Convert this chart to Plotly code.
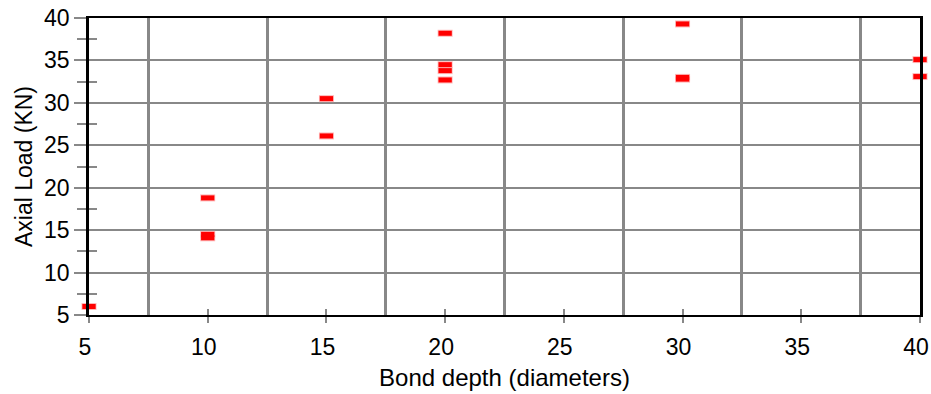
import plotly.graph_objects as go

depth = [5, 10, 10, 10, 15, 15, 20, 20, 20, 20, 30, 30, 30, 40, 40]
load = [6.0, 18.8, 14.5, 14.1, 30.5, 26.1, 38.2, 34.5, 33.8, 32.7, 39.3, 33.0, 32.8, 35.1, 33.1]

x_ticks = [5, 10, 15, 20, 25, 30, 35, 40]
x_labels = ["5", "10", "15", "20", "25", "30", "35", "40"]
y_ticks = [5, 10, 15, 20, 25, 30, 35, 40]
y_labels = ["5", "10", "15", "20", "25", "30", "35", "40"]

FONT = "Liberation Sans, Arial, sans-serif"
GRAY = "#888888"

fig = go.Figure()
# pale outline under the red dashes
fig.add_trace(go.Scatter(
    x=depth, y=load, mode="markers", cliponaxis=False, hoverinfo="skip",
    marker=dict(symbol="line-ew", size=10.7, line=dict(color="#ffb8b8", width=7)),
    showlegend=False))
fig.add_trace(go.Scatter(
    x=depth, y=load, mode="markers", cliponaxis=False,
    marker=dict(symbol="line-ew", size=9.5, line=dict(color="#ff0000", width=5)),
    showlegend=False))
# empty trace so the overlay axes (inner halves of the crossing ticks) are drawn
fig.add_trace(go.Scatter(x=[], y=[], xaxis="x2", yaxis="y2", showlegend=False, hoverinfo="skip"))

fig.update_layout(
    width=931, height=394,
    margin=dict(l=89, r=11, t=18, b=79),
    paper_bgcolor="white", plot_bgcolor="white",
    font=dict(family=FONT, size=18, color="black"),
    xaxis=dict(
        range=[5, 40], tickvals=x_ticks, ticktext=x_labels,
        automargin=False, ticklabeloverflow="allow", ticklabelshift=-4,
        showgrid=False, zeroline=False,
        showline=True, linecolor="black", linewidth=1.5, mirror=True,
        ticks="outside", ticklen=6, tickwidth=2, tickcolor=GRAY,
        ticklabelstandoff=5, tickfont=dict(family=FONT, size=23, color="black"),
        minor=dict(tick0=7.5, dtick=5, showgrid=True, gridcolor=GRAY, gridwidth=2.5, ticks=""),
        title=dict(text="Bond depth (diameters)", standoff=10, font=dict(family=FONT, size=24, color="black")),
    ),
    yaxis=dict(
        range=[5, 40], tickvals=y_ticks, ticktext=y_labels,
        automargin=False, ticklabeloverflow="allow",
        showgrid=True, gridcolor=GRAY, gridwidth=1.5, zeroline=False,
        showline=True, linecolor="black", linewidth=2.5, mirror=True,
        ticks="outside", ticklen=12, tickwidth=1.5, tickcolor=GRAY,
        tickfont=dict(family=FONT, size=23, color="black"),
        minor=dict(tick0=7.5, dtick=5, ticks="outside", ticklen=9, tickwidth=1.5, tickcolor=GRAY, showgrid=False),
        title=dict(text="Axial Load (KN)", standoff=6, font=dict(family=FONT, size=23, color="black")),
    ),
    xaxis2=dict(
        overlaying="x", anchor="y", side="bottom", range=[5, 40], tickvals=x_ticks,
        automargin=False, showticklabels=False, showgrid=False, zeroline=False, showline=False,
        ticks="inside", ticklen=6, tickwidth=2, tickcolor=GRAY,
    ),
    yaxis2=dict(
        overlaying="y", anchor="x", side="left", range=[5, 40], tickvals=y_ticks,
        automargin=False, showticklabels=False, showgrid=False, zeroline=False, showline=False,
        ticks="inside", ticklen=11, tickwidth=1.5, tickcolor=GRAY,
        minor=dict(tick0=7.5, dtick=5, ticks="inside", ticklen=8, tickwidth=1.5, tickcolor=GRAY, showgrid=False),
    ),
)

fig.write_html("out.html")
